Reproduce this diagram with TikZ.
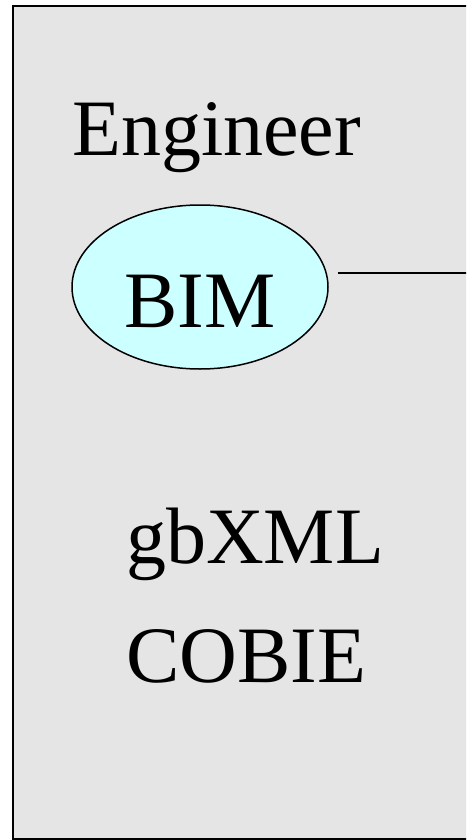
\documentclass[tikz,border=0pt]{standalone}
\usepackage{fontspec}
\setmainfont{Liberation Serif}
\usetikzlibrary{shapes.geometric}
\definecolor{panelgray}{HTML}{E5E5E5}
\definecolor{bimcyan}{HTML}{CCFFFF}
\tikzset{
  bigtext/.style={anchor=base west, inner sep=0pt, font=\fontsize{80}{96}\selectfont},
  panel/.style={draw=black, line width=2pt, fill=panelgray},
  bimshape/.style={ellipse, draw=black, line width=1.5pt, fill=bimcyan, inner sep=0pt, minimum width=256pt, minimum height=164pt},
  link/.style={draw=black, line width=1.3pt}
}
\begin{document}
\begin{tikzpicture}[x=1pt,y=-1pt]
\useasboundingbox (0,0) rectangle (466,840);
\clip (0,0) rectangle (466,840);
\node[panel, rectangle, minimum width=480pt, minimum height=832pt, anchor=north west, inner sep=0pt] (panel) at (11.5,5.5) {};
\node[bigtext] (eng) at (72,155) {Engineer};
\node[bimshape] (bim) at (200,287) {};
\node[bigtext] (bimtext) at (124,327) {BIM};
\coordinate (lineend) at (470,273);
\draw[link] ([xshift=9pt]bim.east |- lineend) -- (lineend);
\node[bigtext] (gbxml) at (126,563) {gbXML};
\node[bigtext] (cobie) at (126,682) {COBIE};
\end{tikzpicture}
\end{document}
